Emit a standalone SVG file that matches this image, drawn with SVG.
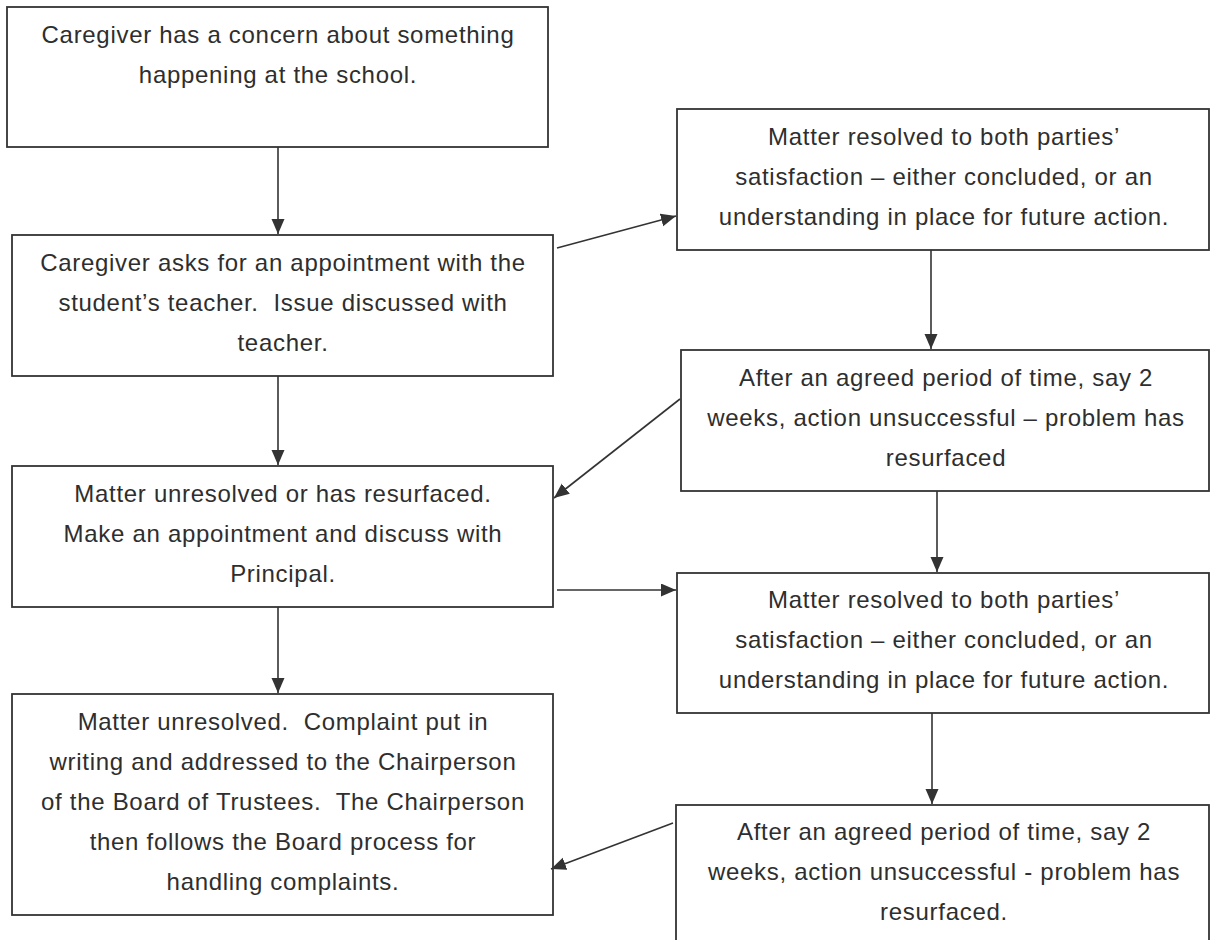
<svg xmlns="http://www.w3.org/2000/svg" width="1212" height="940" viewBox="0 0 1212 940">
<defs>
<style>
.box{fill:#fff;stroke:#333;stroke-width:1.8}
.t{font-family:"Liberation Sans",Arial,sans-serif;font-size:24px;letter-spacing:0.7px;fill:#2e2e2e;text-anchor:middle;white-space:pre}
.c{stroke:#333;stroke-width:1.6;fill:none;marker-end:url(#ah)}
</style>
<marker id="ah" markerUnits="userSpaceOnUse" markerWidth="16" markerHeight="14" refX="15" refY="6.5" orient="auto">
<path d="M0,0 L15,6.5 L0,13 Z" fill="#333"/>
</marker>
</defs>
<rect width="1212" height="940" fill="#fff"/>
<g id="n1"><rect class="box" x="7" y="7" width="541" height="140"/>
<text class="t" x="278" y="43">Caregiver has a concern about something</text>
<text class="t" x="278" y="83">happening at the school.</text></g>
<g id="n2"><rect class="box" x="12" y="235" width="541" height="141"/>
<text class="t" x="283" y="271">Caregiver asks for an appointment with the</text>
<text class="t" x="283" y="311" xml:space="preserve">student’s teacher.  Issue discussed with</text>
<text class="t" x="283" y="351">teacher.</text></g>
<g id="n3"><rect class="box" x="12" y="466" width="541" height="141"/>
<text class="t" x="283" y="502">Matter unresolved or has resurfaced.</text>
<text class="t" x="283" y="542">Make an appointment and discuss with</text>
<text class="t" x="283" y="582">Principal.</text></g>
<g id="n4"><rect class="box" x="12" y="694" width="541" height="221"/>
<text class="t" x="283" y="730" xml:space="preserve">Matter unresolved.  Complaint put in</text>
<text class="t" x="283" y="770">writing and addressed to the Chairperson</text>
<text class="t" x="283" y="810" xml:space="preserve">of the Board of Trustees.  The Chairperson</text>
<text class="t" x="283" y="850">then follows the Board process for</text>
<text class="t" x="283" y="890">handling complaints.</text></g>
<g id="r1"><rect class="box" x="677" y="109" width="532" height="141"/>
<text class="t" x="944" y="145">Matter resolved to both parties’</text>
<text class="t" x="944" y="185">satisfaction – either concluded, or an</text>
<text class="t" x="944" y="225">understanding in place for future action.</text></g>
<g id="r2"><rect class="box" x="681" y="350" width="528" height="141"/>
<text class="t" x="946" y="386">After an agreed period of time, say 2</text>
<text class="t" x="946" y="426">weeks, action unsuccessful – problem has</text>
<text class="t" x="946" y="466">resurfaced</text></g>
<g id="r3"><rect class="box" x="677" y="573" width="532" height="140"/>
<text class="t" x="944" y="608">Matter resolved to both parties’</text>
<text class="t" x="944" y="648">satisfaction – either concluded, or an</text>
<text class="t" x="944" y="688">understanding in place for future action.</text></g>
<g id="r4"><rect class="box" x="676" y="805" width="533" height="150"/>
<text class="t" x="944" y="840">After an agreed period of time, say 2</text>
<text class="t" x="944" y="880">weeks, action unsuccessful - problem has</text>
<text class="t" x="944" y="920">resurfaced.</text></g>
<g id="connectors">
<line class="c" x1="278" y1="147" x2="278" y2="234"/>
<line class="c" x1="278" y1="376" x2="278" y2="465"/>
<line class="c" x1="278" y1="607" x2="278" y2="693"/>
<line class="c" x1="557" y1="248" x2="676" y2="216"/>
<line class="c" x1="931" y1="250" x2="931" y2="349"/>
<line class="c" x1="680" y1="399" x2="554" y2="498"/>
<line class="c" x1="557" y1="590" x2="676" y2="590"/>
<line class="c" x1="937" y1="491" x2="937" y2="572"/>
<line class="c" x1="932" y1="713" x2="932" y2="804"/>
<line class="c" x1="673" y1="823" x2="551" y2="869"/>
</g>
</svg>
